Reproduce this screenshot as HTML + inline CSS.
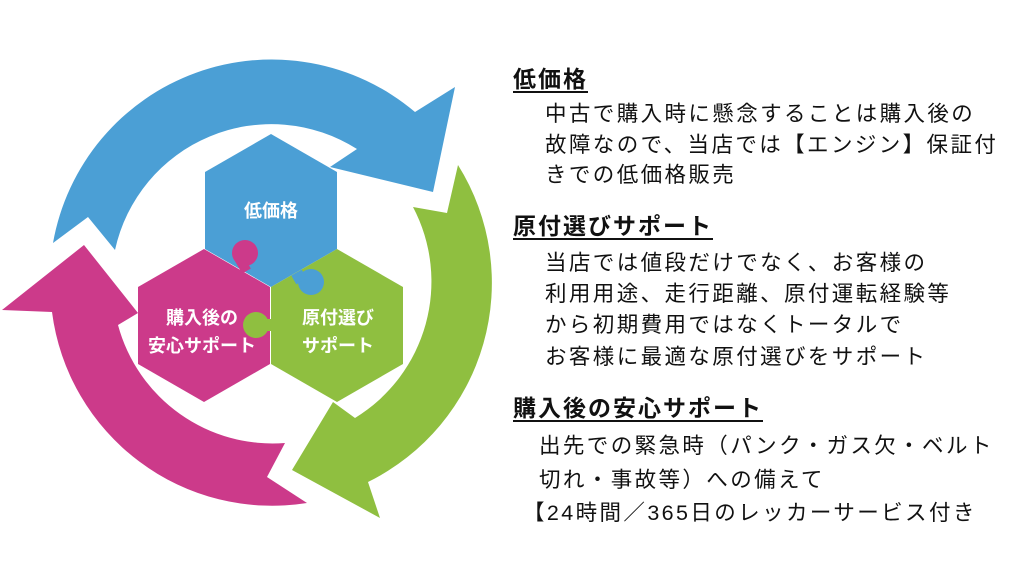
<!DOCTYPE html>
<html><head><meta charset="utf-8"><style>
body{margin:0;width:1024px;height:576px;background:#fff;position:relative;overflow:hidden;font-family:"Liberation Sans","Noto Sans CJK JP",sans-serif;color:#111}
.h{position:absolute;left:513px;font-size:23px;font-weight:bold;letter-spacing:2px;text-decoration:underline;text-underline-offset:4px;line-height:30px;white-space:nowrap}
.b{position:absolute;left:545px;font-size:21.5px;letter-spacing:2.4px;line-height:30px;white-space:nowrap}
svg{position:absolute;left:0;top:0}
</style></head><body>
<svg width="1024" height="576" viewBox="0 0 1024 576">
<path d="M53,243 A222,222 0 0 1 415,112 L455,87 L433,192 L330,167 L357,149 A160,160 0 0 0 115,250 L88,217 Z" fill="#4b9fd5"/>
<path d="M458,165 A222,222 0 0 1 368,482 L380,518 L292,470 L333,402 L355,418 A160,160 0 0 0 413,207 L447,213 Z" fill="#8fbf40"/>
<path d="M307,503 A222,222 0 0 1 52,312 L2,310 L84,245 L138,313 L118,325 A160,160 0 0 0 285,443 L267,477 Z" fill="#cc3a8a"/>
<polygon points="271,134 337,172 337,249 271,287 205,249 205,172" fill="#4b9fd5"/>
<polygon points="204,249 270,287 270,364 204,402 138,364 138,287" fill="#cc3a8a"/>
<polygon points="337,249 403,287 403,364 337,402 271,364 271,287" fill="#8fbf40"/>
<circle cx="245" cy="253" r="13" fill="#cc3a8a"/>
<rect x="238" y="258" width="10" height="14" fill="#cc3a8a" transform="rotate(-30 243 265)"/>
<circle cx="311" cy="282" r="13" fill="#4b9fd5"/>
<rect x="293" y="272" width="12" height="10" fill="#4b9fd5" transform="rotate(-30 299 277)"/>
<circle cx="256" cy="325" r="13" fill="#8fbf40"/>
<rect x="262" y="319" width="10" height="12" fill="#8fbf40"/>
<g fill="#fff" font-weight="bold" font-size="18" text-anchor="middle" font-family="Liberation Sans, Noto Sans CJK JP, sans-serif">
<text x="271" y="217">低価格</text>
<text x="202" y="324">購入後の</text>
<text x="202" y="352">安心サポート</text>
<text x="338" y="324">原付選び</text>
<text x="338" y="352">サポート</text>
</g>
</svg>
<div class="h" style="top:64px">低価格</div>
<div class="b" style="top:99px">中古で購入時に懸念することは購入後の</div>
<div class="b" style="top:130px">故障なので、当店では【エンジン】保証付</div>
<div class="b" style="top:160px">きでの低価格販売</div>
<div class="h" style="top:211px">原付選びサポート</div>
<div class="b" style="top:248px">当店では値段だけでなく、お客様の</div>
<div class="b" style="top:279px">利用用途、走行距離、原付運転経験等</div>
<div class="b" style="top:310px">から初期費用ではなくトータルで</div>
<div class="b" style="top:342px">お客様に最適な原付選びをサポート</div>
<div class="h" style="top:393px">購入後の安心サポート</div>
<div class="b" style="top:431px;left:539px">出先での緊急時（パンク・ガス欠・ベルト</div>
<div class="b" style="top:465px;left:539px">切れ・事故等）への備えて</div>
<div class="b" style="top:498px;left:523px">【24時間／365日のレッカーサービス付き</div>
</body></html>
